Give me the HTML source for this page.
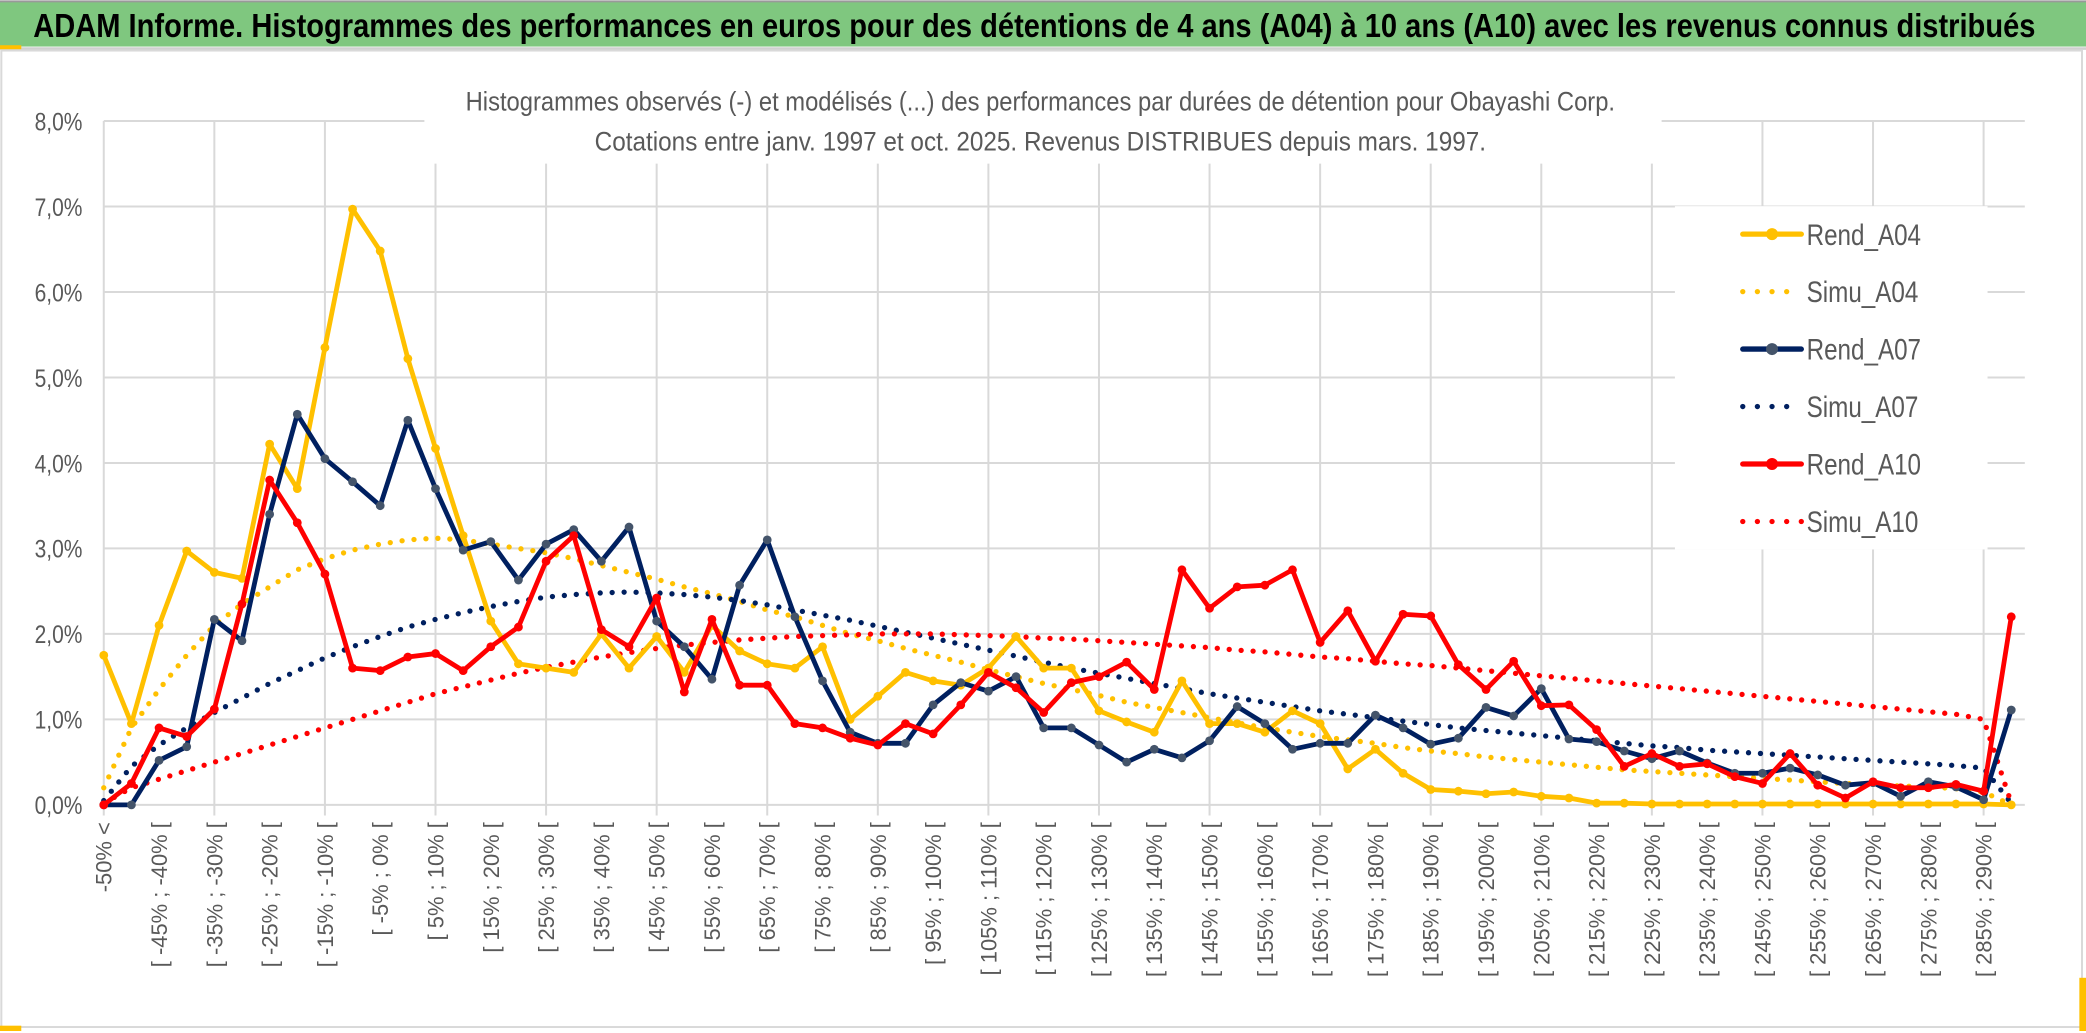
<!DOCTYPE html>
<html><head><meta charset="utf-8"><style>
html,body{margin:0;padding:0;background:#fff;}
svg{display:block;}
text{font-family:"Liberation Sans Narrow","Liberation Sans",sans-serif;}
</style></head><body>
<svg id="chart" width="2086" height="1033" viewBox="0 0 1568 776.5" preserveAspectRatio="none" xmlns="http://www.w3.org/2000/svg">
<rect x="0" y="0" width="1568" height="776.5" fill="#fff"/>
<rect x="0" y="1" width="1568" height="34" fill="#7FC77F"/>
<line x1="0" y1="1" x2="1568" y2="1" stroke="#999" stroke-width="1.5"/>
<line x1="0" y1="36.5" x2="1568" y2="36.5" stroke="#d0d0d0" stroke-width="2"/>
<rect x="0" y="34" width="16" height="3" fill="#FFC000"/>
<text x="25" y="28" font-size="25" font-weight="bold" fill="#000" textLength="1505" lengthAdjust="spacingAndGlyphs">ADAM Informe. Histogrammes des performances en euros pour des détentions de 4 ans (A04) à 10 ans (A10) avec les revenus connus distribués</text>
<rect x="1" y="38" width="1564" height="734" fill="none" stroke="#d9d9d9" stroke-width="1.5"/>
<rect x="0" y="771" width="16" height="4" fill="#FFC000"/>
<rect x="1563" y="735" width="5" height="40" fill="#FFC000"/>
<g id="grid"></g>
<rect x="319" y="58" width="930" height="65" fill="#fff"/>
<text x="782" y="83" font-size="20" fill="#595959" text-anchor="middle" textLength="864" lengthAdjust="spacingAndGlyphs">Histogrammes observés (-) et modélisés (...) des performances par durées de détention pour Obayashi Corp.</text>
<text x="782" y="113" font-size="20" fill="#595959" text-anchor="middle" textLength="670" lengthAdjust="spacingAndGlyphs">Cotations entre janv. 1997 et oct. 2025. Revenus DISTRIBUES depuis mars. 1997.</text>
<g id="yaxis"></g>
<g id="xaxis"></g>
<rect x="1259" y="155" width="235" height="258" fill="#fff"/>
<g id="series"></g>
<g id="legend"></g>
</svg>
<script>
const yTicks = [0,1,2,3,4,5,6,7,8];
const rendA04 = [1.75,0.95,2.1,2.97,2.72,2.65,4.22,3.7,5.35,6.97,6.48,5.22,4.17,3.15,2.15,1.65,1.6,1.55,2.0,1.6,1.97,1.55,2.1,1.8,1.65,1.6,1.85,1.0,1.27,1.55,1.45,1.4,1.6,1.97,1.6,1.6,1.1,0.97,0.85,1.45,0.95,0.95,0.85,1.1,0.95,0.42,0.65,0.37,0.18,0.16,0.13,0.15,0.1,0.08,0.02,0.02,0.01,0.01,0.01,0.01,0.01,0.01,0.01,0.01,0.01,0.01,0.01,0.01,0.01,0.0];
const simuA04 = [0.2,0.9,1.35,1.75,2.1,2.35,2.55,2.75,2.88,2.98,3.05,3.1,3.12,3.1,3.05,3.0,2.95,2.88,2.8,2.72,2.64,2.55,2.47,2.38,2.28,2.2,2.1,2.0,1.92,1.83,1.75,1.67,1.58,1.5,1.42,1.35,1.28,1.2,1.14,1.08,1.02,0.96,0.9,0.85,0.8,0.76,0.72,0.67,0.63,0.6,0.56,0.53,0.5,0.47,0.44,0.41,0.39,0.37,0.35,0.33,0.31,0.29,0.27,0.25,0.24,0.22,0.21,0.19,0.15,0.0];
const rendA07 = [0,0,0.52,0.68,2.17,1.92,3.4,4.57,4.05,3.78,3.5,4.5,3.7,2.98,3.08,2.63,3.05,3.22,2.85,3.25,2.15,1.85,1.47,2.57,3.1,2.2,1.45,0.85,0.72,0.72,1.17,1.43,1.33,1.5,0.9,0.9,0.7,0.5,0.65,0.55,0.75,1.15,0.95,0.65,0.72,0.72,1.05,0.9,0.71,0.78,1.14,1.04,1.36,0.77,0.74,0.63,0.54,0.63,0.49,0.37,0.37,0.43,0.35,0.23,0.26,0.1,0.27,0.21,0.06,1.11];
const simuA07 = [0.05,0.45,0.7,0.9,1.08,1.25,1.42,1.57,1.72,1.85,1.97,2.08,2.17,2.25,2.32,2.38,2.43,2.46,2.48,2.49,2.48,2.46,2.43,2.39,2.34,2.28,2.22,2.16,2.09,2.02,1.95,1.88,1.81,1.74,1.67,1.6,1.54,1.48,1.42,1.36,1.3,1.25,1.2,1.15,1.1,1.06,1.02,0.98,0.94,0.9,0.87,0.84,0.81,0.78,0.75,0.72,0.69,0.67,0.64,0.62,0.6,0.58,0.56,0.54,0.52,0.5,0.48,0.46,0.43,0.02];
const rendA10 = [0,0.25,0.9,0.8,1.12,2.35,3.8,3.3,2.7,1.6,1.57,1.73,1.77,1.57,1.85,2.08,2.85,3.15,2.05,1.85,2.42,1.32,2.17,1.4,1.4,0.95,0.9,0.78,0.7,0.95,0.83,1.17,1.55,1.37,1.08,1.43,1.5,1.67,1.35,2.75,2.3,2.55,2.57,2.75,1.9,2.27,1.68,2.23,2.21,1.64,1.35,1.68,1.16,1.17,0.88,0.45,0.6,0.45,0.48,0.33,0.25,0.6,0.23,0.08,0.27,0.2,0.2,0.24,0.16,2.2];
const simuA10 = [0.02,0.2,0.3,0.4,0.5,0.6,0.7,0.8,0.9,1.0,1.1,1.2,1.3,1.38,1.46,1.54,1.61,1.67,1.73,1.78,1.83,1.87,1.9,1.93,1.95,1.97,1.98,1.99,2.0,2.0,2.0,1.99,1.98,1.97,1.95,1.94,1.92,1.9,1.88,1.86,1.84,1.81,1.79,1.76,1.73,1.71,1.68,1.65,1.63,1.6,1.57,1.54,1.51,1.48,1.45,1.42,1.39,1.36,1.33,1.3,1.27,1.24,1.21,1.18,1.15,1.12,1.09,1.06,1.0,0.02];
const categoryLows = [null,-50,-45,-40,-35,-30,-25,-20,-15,-10,-5,0,5,10,15,20,25,30,35,40,45,50,55,60,65,70,75,80,85,90,95,100,105,110,115,120,125,130,135,140,145,150,155,160,165,170,175,180,185,190,195,200,205,210,215,220,225,230,235,240,245,250,255,260,265,270,275,280,285,290];

const NS = "http://www.w3.org/2000/svg";
const N = rendA04.length;
const X0 = 78, DX = 20.78, Y0 = 605, YPX = 64.25, XR = 1522;
function xPos(i){ return X0 + i*DX; }
function yPos(v){ return Y0 - v*YPX; }
function mk(tag, attrs, parent){ const e = document.createElementNS(NS, tag); for (const k in attrs) e.setAttribute(k, attrs[k]); parent.appendChild(e); return e; }
function catLabel(i){ if (i===0) return "-50% <"; const lo = categoryLows[i]; return "[ " + lo + "% ; " + (lo+5) + "% ["; }

const grid = document.getElementById('grid');
yTicks.forEach(t => {
  const l = mk('line', {x1:X0, x2:XR, y1:yPos(t), y2:yPos(t), stroke:'#d9d9d9', 'stroke-width':1.5}, grid);
  
  
});
for (let i = 0; i < N; i += 4) {
  const l = mk('line', {x1:xPos(i), x2:xPos(i), y1:yPos(8), y2:Y0+8, stroke:'#d9d9d9', 'stroke-width':1.5}, grid);
  
  
}

const yaxis = document.getElementById('yaxis');
yTicks.forEach(t => {
  const tx = mk('text', {x:62, y:yPos(t)+7, 'font-size':19, fill:'#595959', 'text-anchor':'end', textLength:36, lengthAdjust:'spacingAndGlyphs'}, yaxis);
  tx.textContent = t.toFixed(1).replace('.', ',') + '%';
  
  
});

const xaxis = document.getElementById('xaxis');
for (let i = 0; i < N; i += 2) {
  const x = xPos(i) + 6;
  const tx = mk('text', {x:x, y:618, 'font-size':16.5, fill:'#595959', 'text-anchor':'end', transform:'rotate(-90 '+x+' 618)', style:'font-family:"Liberation Sans",sans-serif'}, xaxis);
  tx.textContent = catLabel(i);
  
  
}

const seriesG = document.getElementById('series');
function pts(arr){ return arr.map((v,i) => xPos(i).toFixed(2)+','+yPos(v).toFixed(2)).join(' '); }
function dotted(arr, color, name){
  const p = mk('polyline', {points:pts(arr), fill:'none', stroke:color, 'stroke-width':4, 'stroke-linecap':'round', 'stroke-dasharray':'0 9'}, seriesG);
  
  
}
function solid(arr, color, mcolor, name){
  const g = mk('g', {}, seriesG);
  
  
  mk('polyline', {points:pts(arr), fill:'none', stroke:color, 'stroke-width':3.6, 'stroke-linejoin':'round'}, g);
  arr.forEach((v,i) => {
    const c = mk('circle', {cx:xPos(i), cy:yPos(v), r:3.3, fill:mcolor}, g);
    
    
  });
}
dotted(simuA04, '#FFC000', 'simu-a04-line');
dotted(simuA07, '#002060', 'simu-a07-line');
dotted(simuA10, '#FF0000', 'simu-a10-line');
solid(rendA04, '#FFC000', '#FFC000', 'rend-a04-line');
solid(rendA07, '#002060', '#44546A', 'rend-a07-line');
solid(rendA10, '#FF0000', '#FF0000', 'rend-a10-line');

const legendNames = ['Rend_A04','Simu_A04','Rend_A07','Simu_A07','Rend_A10','Simu_A10'];
const legendColors = ['#FFC000','#FFC000','#002060','#002060','#FF0000','#FF0000'];
const legendMarker = ['#FFC000','','#44546A','','#FF0000',''];
const legend = document.getElementById('legend');
legendNames.forEach((nm, k) => {
  const y = 176 + k*43.2;
  const g = mk('g', {}, legend);
  
  
  if (k % 2 === 0) {
    mk('line', {x1:1310, x2:1354, y1:y, y2:y, stroke:legendColors[k], 'stroke-width':4, 'stroke-linecap':'round'}, g);
    mk('circle', {cx:1332, cy:y, r:4.5, fill:legendMarker[k]}, g);
  } else {
    mk('line', {x1:1310, x2:(k===5?1357:1344), y1:y, y2:y, stroke:legendColors[k], 'stroke-width':4, 'stroke-linecap':'round', 'stroke-dasharray':'0 11'}, g);
  }
  const t = mk('text', {x:1358, y:y+8, 'font-size':22, fill:'#595959', textLength:(k%2?84:86), lengthAdjust:'spacingAndGlyphs'}, g);
  t.textContent = nm;
});
</script>
</body></html>
